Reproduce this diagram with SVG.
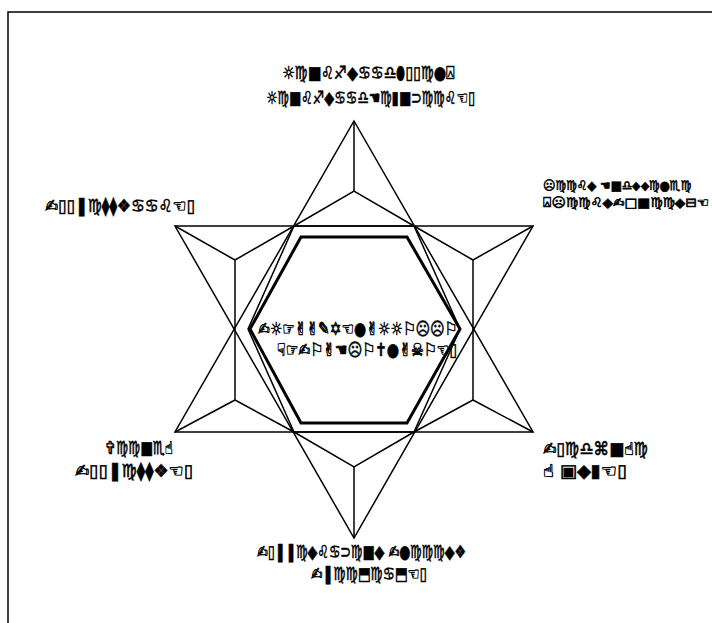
<svg xmlns="http://www.w3.org/2000/svg" width="712" height="623" viewBox="0 0 712 623">
<style>
.ln{fill:none;stroke:#000;stroke-width:1.5;stroke-linejoin:miter}
.thk{fill:none;stroke:#000;stroke-width:3;stroke-linejoin:miter}
.t{font-family:"DejaVu Sans",sans-serif;font-size:18px;fill:#000;stroke:#000;stroke-width:0.6}
.s{font-size:13px}
</style>
<rect x="0" y="0" width="712" height="623" fill="#fff"/>
<rect class="ln" x="8" y="12" width="740" height="660"/>
<g id="star">
<polygon class="ln" points="354,121 533,432 175,432"/>
<polygon class="ln" points="175,226 533,226 354,538"/>
<polyline class="ln" points="294,226 354,191 414,226"/>
<line class="ln" x1="354" y1="121" x2="354" y2="191"/>
<polyline class="ln" points="294,432 354,467 414,432"/>
<line class="ln" x1="354" y1="538" x2="354" y2="467"/>
<polyline class="ln" points="294,226 235,260 235,400 294,432"/>
<line class="ln" x1="175" y1="226" x2="235" y2="260"/>
<line class="ln" x1="175" y1="432" x2="235" y2="400"/>
<polyline class="ln" points="414,226 473,260 473,400 414,432"/>
<line class="ln" x1="533" y1="226" x2="473" y2="260"/>
<line class="ln" x1="533" y1="432" x2="473" y2="400"/>
</g>
<g id="hexagons">
<polygon class="ln" points="294,226 414,226 460,329 414,432 294,432 248,329"/>
<polygon class="thk" points="301,237 407,237 460,329 407,423 301,423 250,329"/>
</g>
<g id="label-top">
<text class="t" x="282" y="79" textLength="173" lengthAdjust="spacingAndGlyphs">☼♍■♌♐◆♋♋♎⬮▯▯♍●⍓</text>
<text class="t" x="266" y="104" textLength="209" lengthAdjust="spacingAndGlyphs">☼♍■♌♐◆♋♋♎☚♍▮■⊃♍♍♌☜▯</text>
</g>
<g id="label-left">
<text class="t" x="45" y="212" textLength="150" lengthAdjust="spacingAndGlyphs">✍▯▯❚♍⧫⧫❖♋♋♌☜▯</text>
</g>
<g id="label-right">
<text class="t s" x="543" y="190" textLength="148" lengthAdjust="spacingAndGlyphs">☹♍♍♌◆ ☚■♎⬥⬥♍●♏♍</text>
<text class="t s" x="543" y="207" textLength="166" lengthAdjust="spacingAndGlyphs">⍓☹♍♍♌◆✍□■♍♍◆⊟☜</text>
</g>
<g id="label-center">
<text class="t" x="258" y="335" textLength="199" lengthAdjust="spacingAndGlyphs">✍☼☞✌✌✎✡☜●✌☼☼⚐☹☹⚐</text>
<text class="t" x="277" y="356" textLength="180" lengthAdjust="spacingAndGlyphs">☟☞✍⚐✌☚☹⚐✝●✌☠⚐☜▯</text>
</g>
<g id="label-lower-left">
<text class="t" x="105" y="454" textLength="68" lengthAdjust="spacingAndGlyphs">✞♍♍■♏☝</text>
<text class="t" x="75" y="477" textLength="118" lengthAdjust="spacingAndGlyphs">✍▯▯❚♍⧫⧫❖☜▯</text>
</g>
<g id="label-lower-right">
<text class="t" x="543" y="455" textLength="105" lengthAdjust="spacingAndGlyphs">✍▯♍♎⌘■☝♍</text>
<text class="t" x="543" y="477" textLength="84" lengthAdjust="spacingAndGlyphs">☝ ▣◆▮☜▯</text>
</g>
<g id="label-bottom">
<text class="t" x="257" y="558" textLength="209" lengthAdjust="spacingAndGlyphs">✍▯❚❚♍◆♌♋⊃♍■◆ ✍●♍♍♍◆❖</text>
<text class="t" x="311" y="580" textLength="116" lengthAdjust="spacingAndGlyphs">✍❚♍♍⬒♍♋⬒☜▯</text>
</g>
</svg>
